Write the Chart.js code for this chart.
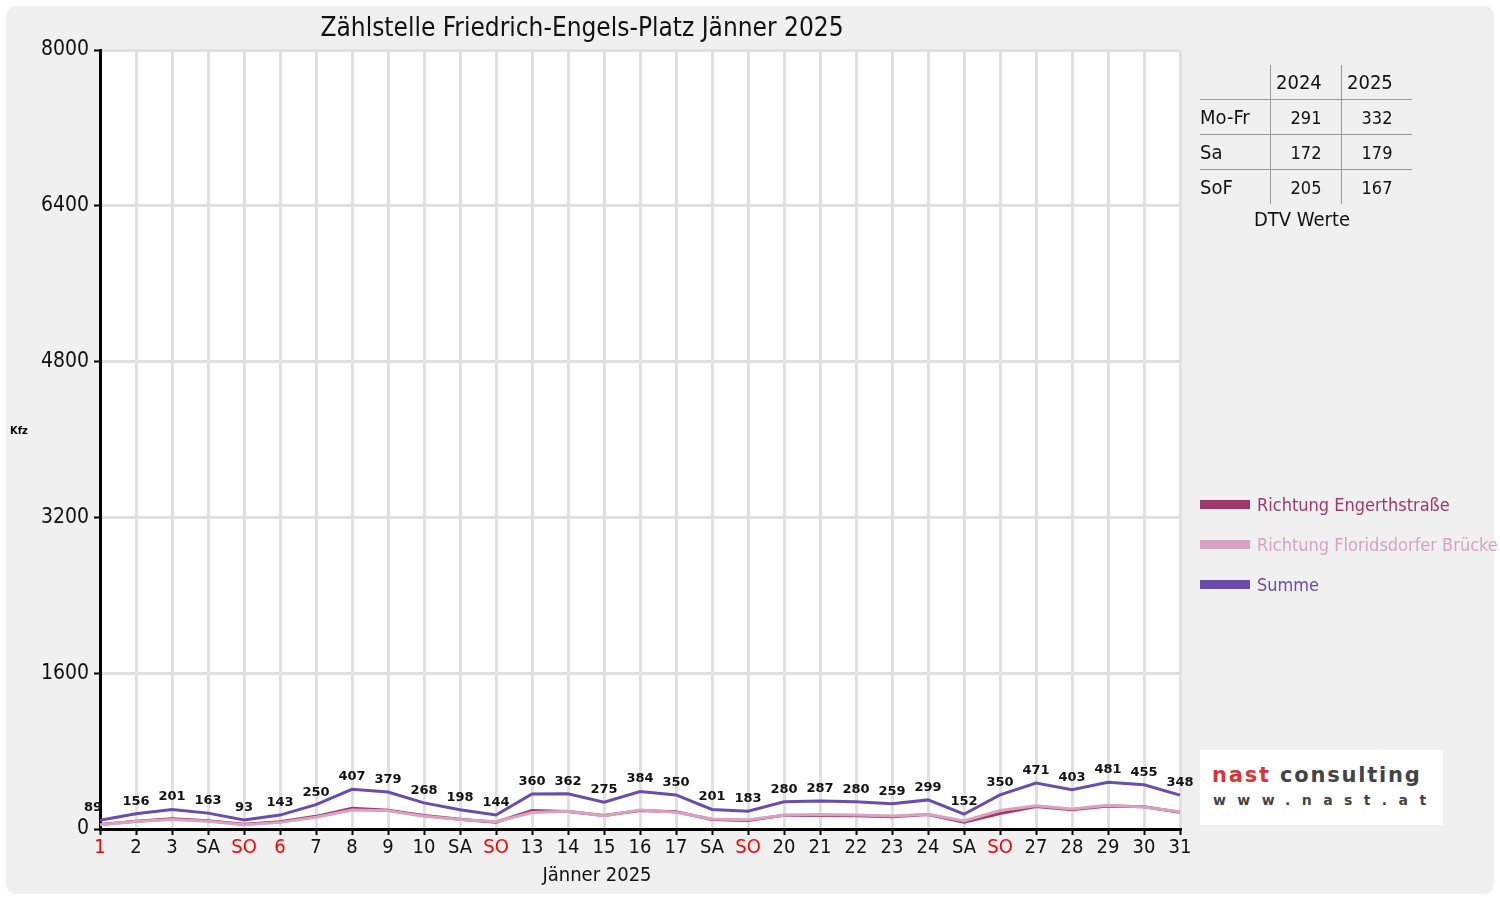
<!DOCTYPE html>
<html lang="de">
<head>
<meta charset="utf-8">
<title>Zählstelle Friedrich-Engels-Platz Jänner 2025</title>
<script src="https://cdn.jsdelivr.net/npm/chart.js@4.4.1/dist/chart.umd.min.js"></script>
<style>
    html, body { margin: 0; padding: 0; background: #fff; }
    body { width: 1500px; height: 900px; position: relative; overflow: hidden; font-family: "DejaVu Sans Condensed", "DejaVu Sans", sans-serif; }
    .panel { position: absolute; left: 6px; top: 6px; width: 1488px; height: 888px; background: #f0f0f0; border-radius: 10px; }
    #chart { position: absolute; left: 0; top: 0; }
    .title { position: absolute; left: 0; top: 12px; width: 1164px; text-align: center; font-size: 26px; color: #111; }
    .x-title { position: absolute; left: 0; top: 862px; width: 1194px; text-align: center; font-size: 20px; color: #111; }
    .y-title { position: absolute; left: 10px; top: 424px; font-size: 11px; font-weight: bold; color: #000; }
    .dtv { position: absolute; left: 1200px; top: 65px; border-collapse: collapse; color: #111; }
    .dtv td { height: 34px; padding: 0; font-size: 18px; text-align: center; }
    .dtv td.lbl { width: 70px; text-align: left; font-size: 20px; }
    .dtv td.val { width: 70px; border-left: 1px solid #999; }
    .dtv tr.head td.val { text-align: left; padding-left: 5px; width: 65px; font-size: 20px; }
    .dtv tr.line td { border-bottom: 1px solid #999; }
    .dtv-caption { position: absolute; left: 1200px; top: 207px; width: 204px; text-align: center; font-size: 20px; color: #111; }
    .legend { position: absolute; left: 1200px; top: 484px; }
    .legend-item { display: flex; align-items: center; height: 40px; font-size: 18px; }
    .legend-item .sw { width: 50px; height: 9px; margin-right: 7px; }
    .logo { position: absolute; left: 1200px; top: 750px; width: 243px; height: 75px; background: #fff; font-family: "DejaVu Sans", sans-serif; font-weight: bold; }
    .logo .l1 { position: absolute; left: 12px; top: 13px; font-size: 21px; letter-spacing: 1.8px; color: #444; }
    .logo .l1 span { color: #d9343a; }
    .logo .l2 { position: absolute; left: 13px; top: 42px; font-size: 14px; letter-spacing: 11.4px; color: #444; }
</style>
</head>
<body>
<div class="panel"></div>
<canvas id="chart" width="1500" height="900"></canvas>
<div class="title">Zählstelle Friedrich-Engels-Platz Jänner 2025</div>
<div class="x-title">Jänner 2025</div>
<div class="y-title">Kfz</div>

<table class="dtv">
    <tr class="head line"><td class="lbl"></td><td class="val" id="h1"></td><td class="val" id="h2"></td></tr>
</table>
<div class="dtv-caption">DTV Werte</div>
<div class="legend" id="legend"></div>
<div class="logo"><div class="l1"><span>nast</span> consulting</div><div class="l2">www.nast.at</div></div>

<script>
const days = ["1", "2", "3", "SA", "SO", "6", "7", "8", "9", "10", "SA", "SO", "13", "14", "15", "16", "17", "SA", "SO", "20", "21", "22", "23", "24", "SA", "SO", "27", "28", "29", "30", "31"];
const redDays = [0, 4, 5, 11, 18, 25];

const engerth = [46, 80, 104, 84, 50, 75, 130, 212, 192, 138, 100, 70, 190, 180, 138, 190, 178, 98, 88, 140, 138, 136, 125, 148, 70, 160, 232, 198, 236, 228, 172];
const floridsdorf = [43, 76, 97, 79, 43, 68, 120, 195, 187, 130, 98, 74, 170, 182, 137, 194, 172, 103, 95, 140, 149, 144, 134, 151, 82, 190, 239, 205, 245, 227, 176];
const summe = [89, 156, 201, 163, 93, 143, 250, 407, 379, 268, 198, 144, 360, 362, 275, 384, 350, 201, 183, 280, 287, 280, 259, 299, 152, 350, 471, 403, 481, 455, 348];

const yTicks = [0, 1600, 3200, 4800, 6400, 8000];

const dtvYears = ["2024", "2025"];
const dtvRows = ["Mo-Fr", "Sa", "SoF"];
const dtv2024 = [291, 172, 205];
const dtv2025 = [332, 179, 167];

const seriesNames = ["Richtung Engerthstraße", "Richtung Floridsdorfer Brücke", "Summe"];
const seriesColors = ["#a0386a", "#d9a3c0", "#6a4dab"];

function buildTable() {
    document.getElementById("h1").textContent = dtvYears[0];
    document.getElementById("h2").textContent = dtvYears[1];
    const table = document.querySelector(".dtv");
    dtvRows.forEach((row, i) => {
        const tr = document.createElement("tr");
        if (i < dtvRows.length - 1) tr.className = "line";
        tr.innerHTML = `<td class="lbl">${row}</td><td class="val">${dtv2024[i]}</td><td class="val">${dtv2025[i]}</td>`;
        table.appendChild(tr);
    });
}

function buildLegend() {
    const legend = document.getElementById("legend");
    seriesNames.forEach((name, i) => {
        const div = document.createElement("div");
        div.className = "legend-item";
        div.style.color = seriesColors[i];
        div.innerHTML = `<span class="sw" style="background:${seriesColors[i]}"></span>${name}`;
        legend.appendChild(div);
    });
}

// white plot background + value labels above the sum line
const plotExtras = {
    id: "plotExtras",
    beforeDraw(chart) {
        const a = chart.chartArea;
        const ctx = chart.ctx;
        ctx.save();
        ctx.fillStyle = "#fff";
        ctx.fillRect(a.left, a.top, a.right - a.left, a.bottom - a.top);
        ctx.restore();
    },
    afterDatasetsDraw(chart) {
        const meta = chart.getDatasetMeta(2);
        const ctx = chart.ctx;
        ctx.save();
        ctx.font = "bold 13px 'DejaVu Sans'";
        ctx.fillStyle = "#111";
        ctx.textAlign = "center";
        ctx.textBaseline = "bottom";
        meta.data.forEach((pt, i) => {
            const x = i === 0 ? pt.x - 7 : pt.x;
            ctx.fillText(String(summe[i]), x, pt.y - 6);
        });
        ctx.restore();
    }
};

function buildChart() {
    const ctx = document.getElementById("chart").getContext("2d");
    Chart.defaults.font.family = "'DejaVu Sans Condensed', 'DejaVu Sans', sans-serif";
    Chart.defaults.color = "#111";

    const series = [engerth, floridsdorf, summe];
    return new Chart(ctx, {
        type: "line",
        data: {
            labels: days,
            datasets: series.map((data, i) => ({
                label: seriesNames[i],
                data,
                borderColor: seriesColors[i],
                backgroundColor: seriesColors[i],
                borderWidth: 3,
                pointRadius: 0,
                tension: 0,
                order: 2 - i
            }))
        },
        options: {
            responsive: false,
            animation: false,
            devicePixelRatio: 1,
            layout: { padding: { left: 0, right: 320, top: 50, bottom: 0 } },
            plugins: {
                legend: { display: false },
                title: { display: false },
                tooltip: { enabled: false }
            },
            scales: {
                x: {
                    offset: false,
                    afterFit: s => { s.height = 71; },
                    grid: { color: "#e0e0e0", lineWidth: 3, tickColor: "#000", tickLength: 6, tickWidth: 2, offset: false },
                    border: { color: "#000", width: 3 },
                    ticks: {
                        autoSkip: false,
                        maxRotation: 0,
                        padding: 1,
                        font: { size: 20 },
                        color: c => redDays.includes(c.index) ? "#ff0000" : "#111"
                    }
                },
                y: {
                    min: yTicks[0],
                    max: yTicks[yTicks.length - 1],
                    afterFit: s => { s.width = 100; },
                    afterBuildTicks: s => { s.ticks = yTicks.map(v => ({ value: v })); },
                    grid: { color: "#e0e0e0", lineWidth: 3, tickColor: "#000", tickLength: 6, tickWidth: 2 },
                    border: { color: "#000", width: 3 },
                    ticks: { padding: 5, font: { size: 21 }, callback: v => String(v) }
                }
            }
        },
        plugins: [plotExtras]
    });
}

window.addEventListener("DOMContentLoaded", () => {
    buildTable();
    buildLegend();
    buildChart();
});
</script>
</body>
</html>
